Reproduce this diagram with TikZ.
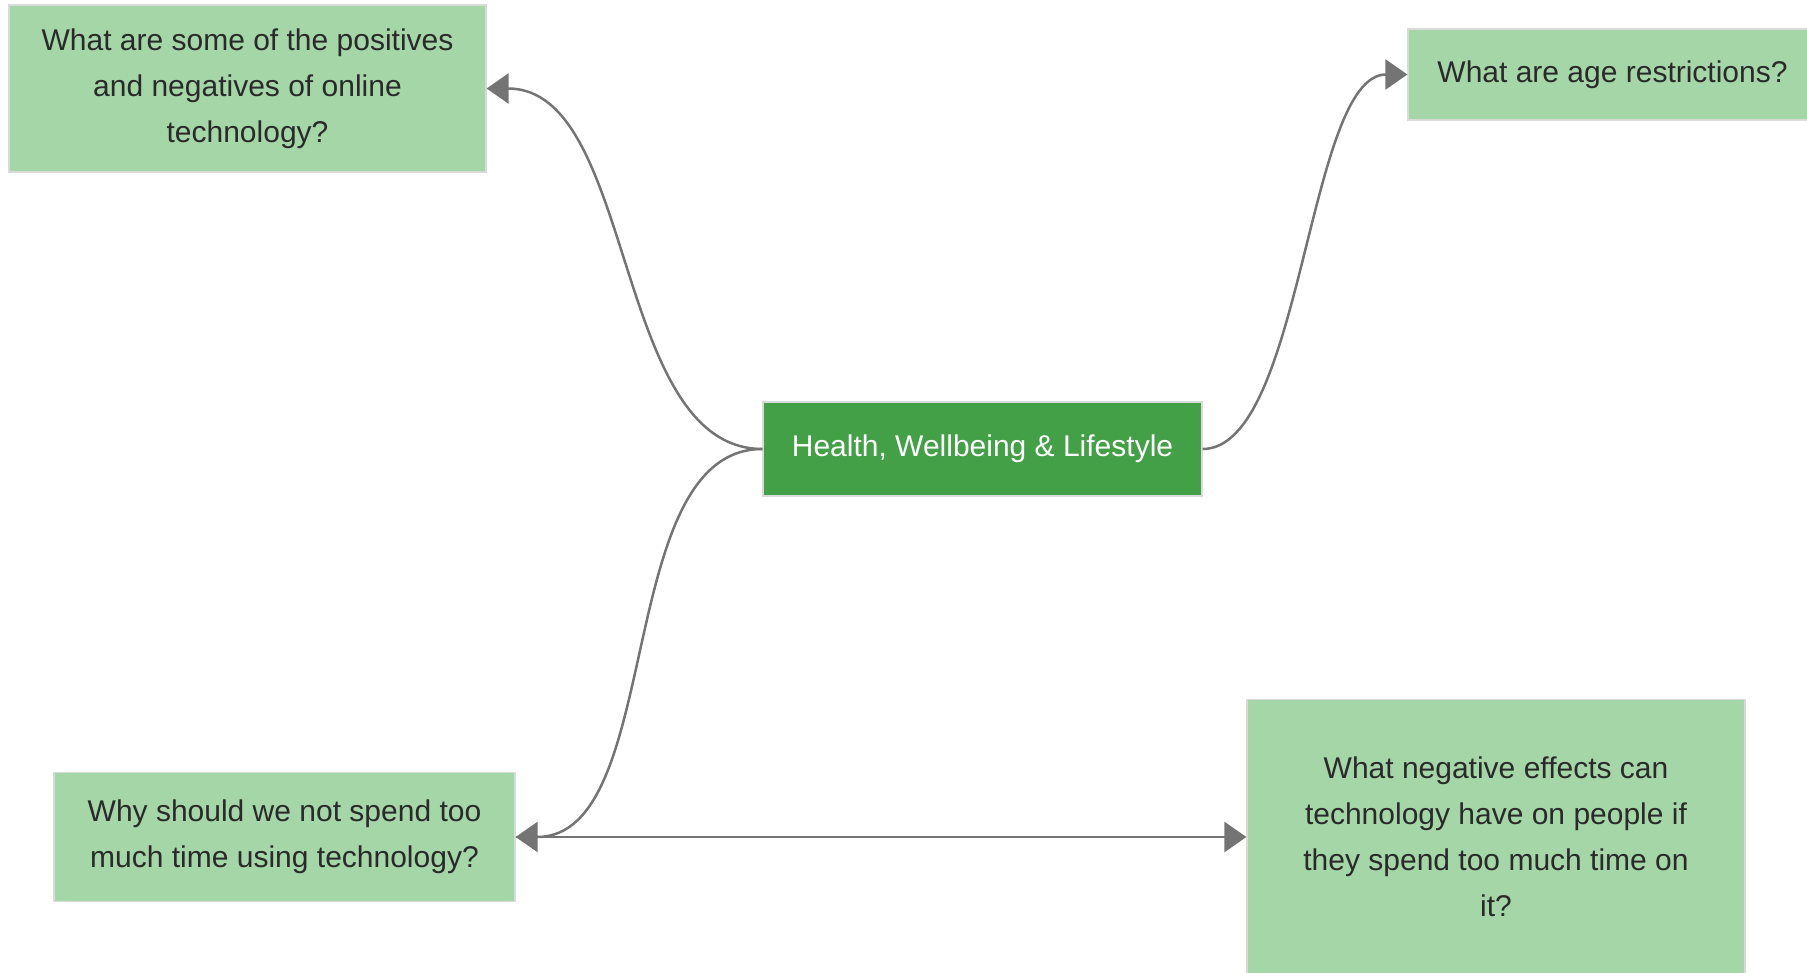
\documentclass[tikz,border=0pt]{standalone}
\usepackage{fontspec}
\setmainfont{Liberation Sans}
\usetikzlibrary{arrows.meta}
\definecolor{leaf}{HTML}{A5D6A7}
\definecolor{hubgreen}{HTML}{43A047}
\definecolor{edge}{HTML}{DADADA}
\definecolor{ink}{HTML}{2A2A2A}
\definecolor{wire}{HTML}{747474}
\tikzset{
  question/.style={draw=edge, line width=1.2pt, fill=leaf, text=ink,
    align=center, inner sep=0pt, font=\fontsize{30}{46}\selectfont},
  hubbox/.style={draw=edge, line width=1.2pt, fill=hubgreen, text=white,
    align=center, inner sep=0pt, font=\fontsize{30}{46}\selectfont},
  conn/.style={draw=wire, line width=2.5pt,
    -{Triangle[length=22pt,width=30pt]}},
}
\begin{document}
\begin{tikzpicture}[x=1pt,y=-1pt]
  \useasboundingbox (0,0) rectangle (1807,973);
  \clip (0,0) rectangle (1807,973);

  % central topic
  \node[hubbox, minimum width=439pt, minimum height=94pt] (hub) at (982.5,449)
    {Health, Wellbeing \& Lifestyle};

  % question boxes
  \node[question, minimum width=477pt, minimum height=167pt] (q1) at (247.5,88.5)
    {What are some of the positives\\ and negatives of online\\ technology?};
  \node[question, minimum width=409pt, minimum height=91pt] (q2) at (1612.5,74.5)
    {What are age restrictions?};
  \node[question, minimum width=461pt, minimum height=129pt] (q3) at (284.5,837)
    {Why should we not spend too\\ much time using technology?};
  \node[question, minimum width=498pt, minimum height=275pt] (q4) at (1496,837)
    {What negative effects can\\ technology have on people if\\ they spend too much time on\\ it?};

  % connectors
  \draw[conn] (hub.west) .. controls +(-150,0) and +(150,0) .. (q1.east);
  \draw[conn] (hub.west) .. controls +(-150,0) and +(150,0) .. (q3.east);
  \draw[conn] (hub.east) .. controls +(100,0) and +(-100,0) .. (q2.west);
  \draw[conn] (q3.east) -- (q4.west);
\end{tikzpicture}
\end{document}
